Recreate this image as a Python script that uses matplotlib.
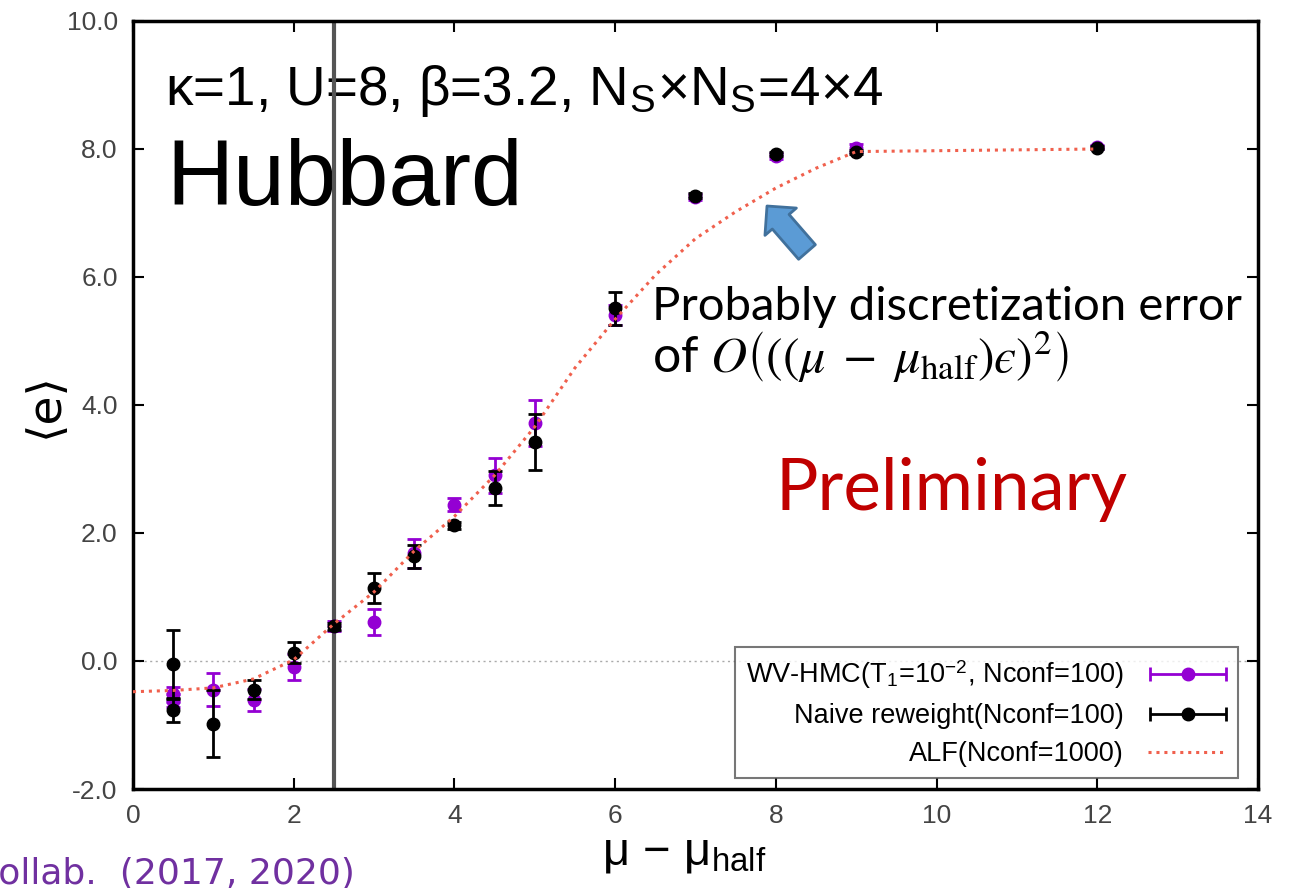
import matplotlib
matplotlib.use("Agg")
import matplotlib.pyplot as plt
from matplotlib.patches import FancyArrowPatch
from matplotlib.container import ErrorbarContainer
from matplotlib.legend_handler import HandlerErrorbar
import numpy as np

plt.rcParams['font.family'] = ['Liberation Sans', 'DejaVu Sans']
plt.rcParams['mathtext.fontset'] = 'stix'

# WV-HMC (T1 = 1e-2, Nconf = 100)
wv_x = [0.5, 0.5, 1.0, 1.5, 2.0, 2.5, 3.0, 3.5, 4.0, 4.5, 5.0, 6.0, 7.0, 8.0, 9.0, 12.0]
wv_y = [-0.52, -0.62, -0.45, -0.61, -0.09, 0.55, 0.61, 1.68, 2.44, 2.90, 3.72, 5.41, 7.25, 7.89, 8.02, 8.03]
wv_err = [0.12, 0.10, 0.26, 0.17, 0.20, 0.08, 0.20, 0.22, 0.10, 0.27, 0.36, 0.16, 0.05, 0.04, 0.06, 0.03]

# Naive reweighting (Nconf = 100)
nr_x = [0.5, 0.5, 1.0, 1.5, 2.0, 2.5, 3.0, 3.5, 4.0, 4.5, 5.0, 6.0, 7.0, 8.0, 9.0, 12.0]
nr_y = [-0.05, -0.77, -0.98, -0.45, 0.13, 0.54, 1.14, 1.64, 2.12, 2.70, 3.42, 5.51, 7.27, 7.92, 7.95, 8.02]
nr_err = [0.53, 0.18, 0.52, 0.15, 0.16, 0.05, 0.24, 0.18, 0.05, 0.27, 0.44, 0.26, 0.04, 0.03, 0.03, 0.02]

# ALF reference (Nconf = 1000)
alf_x = [0.0, 0.5, 1.0, 1.5, 2.0, 2.5, 3.0, 3.5, 4.0, 4.5, 5.0, 5.5, 6.0, 6.5, 7.0, 7.5, 8.0, 8.5, 9.0, 12.0]
alf_y = [-0.48, -0.46, -0.42, -0.28, 0.02, 0.58, 1.08, 1.72, 2.26, 2.90, 3.66, 4.58, 5.34, 6.03, 6.60, 7.02, 7.39, 7.70, 7.96, 8.00]

x_ticks = [0, 2, 4, 6, 8, 10, 12, 14]
y_ticks = [-2.0, 0.0, 2.0, 4.0, 6.0, 8.0, 10.0]

labels = ['WV-HMC(T$_\\mathregular{1}$=10$^\\mathregular{-2}$, Nconf=100)',
          'Naive reweight(Nconf=100)',
          'ALF(Nconf=1000)']

W, H = 1294, 888


def fx(px):
    return px / W


def fy(py):
    return 1 - py / H


fig = plt.figure(figsize=(W / 100, H / 100), dpi=100)
ax = fig.add_axes([fx(133), fy(789), (1258 - 133) / W, (789 - 21) / H])

ax.set_xlim(0, 14)
ax.set_ylim(-2, 10)

ax.axhline(0, color='#aaaaaa', lw=1.0, ls=(0, (1.5, 2.5)), zorder=1)
ax.axvline(2.5, color='#555555', lw=3, zorder=2)

purple = '#9400D3'
style = dict(fmt='o', ms=9, capsize=5, elinewidth=2, capthick=2)
wv = ax.errorbar(wv_x, wv_y, yerr=wv_err, color=purple, zorder=3, **style)
nr = ax.errorbar(nr_x, nr_y, yerr=nr_err, color='black', zorder=4, **style)
alf, = ax.plot(alf_x, alf_y, color='#F0604D', lw=2.2, ls=(0, (1.0, 1.6)), zorder=5)

# legend keys drawn gnuplot-style, with horizontal error bars
key_wv = ax.errorbar([np.nan], [np.nan], xerr=[1], color=purple, **style)
key_nr = ax.errorbar([np.nan], [np.nan], xerr=[1], color='black', **style)

ax.set_xticks(x_ticks)
ax.set_yticks(y_ticks)
ax.set_xticklabels([str(v) for v in x_ticks])
ax.set_yticklabels([f'{v:.1f}' for v in y_ticks])
ax.tick_params(direction='in', length=8, width=1.5, top=True, right=True,
               labelsize=19, labelcolor='#444444', pad=11)
for s in ax.spines.values():
    s.set_linewidth(2.5)

ax.set_xlabel('μ − μ$_\\mathregular{half}$', fontsize=34)
ax.xaxis.set_label_coords(0.49, -0.055)
ax.set_ylabel('⟨e⟩', fontsize=34, family=['DejaVu Sans'])
ax.yaxis.set_label_coords(-0.058, 0.5)

leg = ax.legend([key_wv, key_nr, alf], labels,
                handler_map={ErrorbarContainer: HandlerErrorbar(xerr_size=1.4)},
                loc='lower right', bbox_to_anchor=(0.982, 0.014), markerfirst=False,
                fontsize=19.5, frameon=True, fancybox=False, borderaxespad=0,
                handlelength=2.9, handletextpad=0.9, labelspacing=0.45,
                borderpad=0.4)
leg.get_frame().set_edgecolor('#555555')
leg.get_frame().set_linewidth(1.5)

# Parameter header and model name
ax.text(fx(165), fy(105), 'κ=1, U=8, β=3.2, N$_\\mathregular{S}$×N$_\\mathregular{S}$=4×4',
        transform=fig.transFigure, fontsize=39.5, va='baseline', zorder=1)
ax.text(fx(166), fy(205), 'Hubbard', transform=fig.transFigure, fontsize=67,
        va='baseline', zorder=1)

# Annotation about the deviation at large chemical potential
ax.text(fx(652), fy(320), 'Probably discretization error', transform=fig.transFigure,
        fontsize=34, family='Lato', va='baseline', zorder=6)
ax.text(fx(652), fy(373),
        'of $O\\left(((\\mu\\;-\\;\\mu_{\\mathrm{half}})\u03f5)^2\\right)$',
        transform=fig.transFigure, fontsize=36, family='Lato', va='baseline', zorder=6)
ax.text(fx(775), fy(510), 'Preliminary', transform=fig.transFigure, fontsize=51,
        family='Lato', color='#C00000', va='baseline', zorder=6)

arrow = FancyArrowPatch((fx(807), fy(252)), (fx(767), fy(206)),
                        transform=fig.transFigure, shrinkA=0, shrinkB=0,
                        arrowstyle='simple,head_length=1.5,head_width=3.0,tail_width=1.6',
                        mutation_scale=10, facecolor='#5B9BD5', edgecolor='#41719C',
                        lw=2, zorder=7)
fig.patches.append(arrow)

fig.text(fx(355), fy(884), 'Collab.  (2017, 2020)', fontsize=26, family='DejaVu Sans',
         color='#7030A0', ha='right', va='baseline')

fig.savefig('out.png', dpi=100)
